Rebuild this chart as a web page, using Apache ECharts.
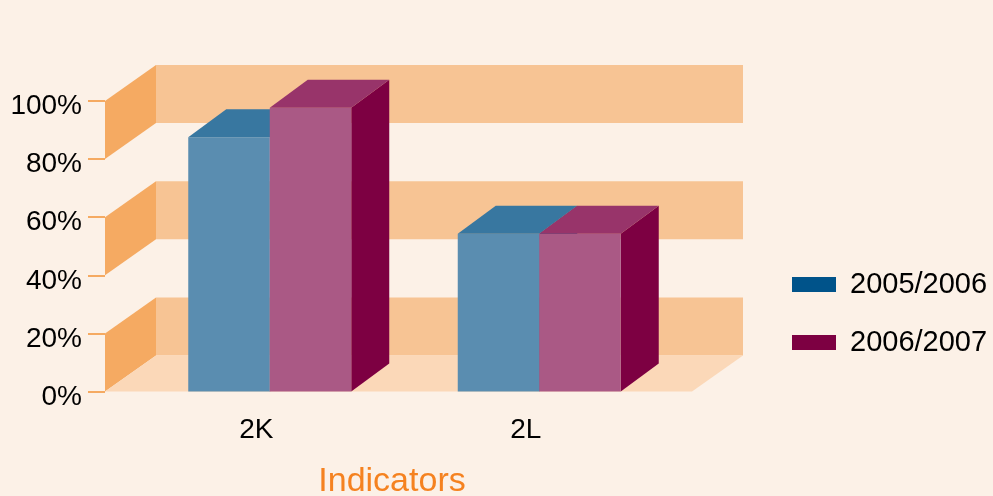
<!DOCTYPE html>
<html>
<head>
<meta charset="utf-8">
<script src="https://cdn.jsdelivr.net/npm/echarts@6/dist/echarts.min.js"></script>
<style>
  html, body { margin: 0; padding: 0; background: #FCF1E7; }
  #chart { width: 993px; height: 496px; }
</style>
</head>
<body>
<div id="chart"></div>
<script>
// Data
const categories = ['2K', '2L'];
const seriesNames = ['2005/2006', '2006/2007'];
const values2005 = [87.5, 54.3];
const values2006 = [97.7, 54.3];
const yTicks = [0, 20, 40, 60, 80, 100];
const wallBands = [[0, 20], [40, 60], [80, 100]];

// Drawing constants for the pseudo-3D look
const FONT = '"Liberation Sans", Arial, sans-serif';
const WALL_DEPTH = { dx: 51, dy: -36 };
const BAR_DEPTH = { dx: 38, dy: -28 };
const PLANE_EXTEND = { left: 30, right: 18 };
const BAR_FRACTION = 0.3024;

const palette = [
  { legend: '#00538A', front: '#5A8DB0', top: '#3877A0', side: '#1F5F8C' },
  { legend: '#7D0042', front: '#AA5985', top: '#98346A', side: '#7D0042' }
];

// Back wall, side wall and floor, placed from the value axis scale
function renderWalls(params, api) {
  const cs = params.coordSys;
  const xl = cs.x - PLANE_EXTEND.left;
  const xr = cs.x + cs.width + PLANE_EXTEND.right;
  const y = v => api.coord([0, v])[1];
  const { dx, dy } = WALL_DEPTH;
  const children = [];
  wallBands.forEach(([a, b]) => {
    children.push({
      type: 'rect',
      shape: { x: xl + dx, y: y(b) + dy, width: xr - xl, height: y(a) - y(b) },
      style: { fill: '#F7C494' }
    });
  });
  wallBands.forEach(([a, b]) => {
    children.push({
      type: 'polygon',
      shape: { points: [[xl, y(a)], [xl + dx, y(a) + dy], [xl + dx, y(b) + dy], [xl, y(b)]] },
      style: { fill: '#F5AA62' }
    });
  });
  const y0 = y(0);
  children.push({
    type: 'polygon',
    shape: { points: [[xl, y0], [xr, y0], [xr + dx, y0 + dy], [xl + dx, y0 + dy]] },
    style: { fill: '#FBD8B8' }
  });
  return { type: 'group', children: children };
}

// A box-shaped bar: front face, top face and right side face
function makeBarRenderer(k) {
  return function (params, api) {
    const idx = api.value(0);
    const val = api.value(1);
    const base = api.coord([idx, 0]);
    const top = api.coord([idx, val]);
    const bw = api.size([1, 0])[0];
    const w = bw * BAR_FRACTION;
    const x0 = base[0] - w + k * w;
    const x1 = x0 + w;
    const yt = top[1];
    const yb = base[1];
    const { dx, dy } = BAR_DEPTH;
    const c = palette[k];
    return {
      type: 'group',
      children: [
        { type: 'polygon', shape: { points: [[x1, yt], [x1 + dx, yt + dy], [x1 + dx, yb + dy], [x1, yb]] }, style: { fill: c.side } },
        { type: 'rect', shape: { x: x0, y: yt, width: w, height: yb - yt }, style: { fill: c.front } },
        { type: 'polygon', shape: { points: [[x0, yt], [x1, yt], [x1 + dx, yt + dy], [x0 + dx, yt + dy]] }, style: { fill: c.top } }
      ]
    };
  };
}

const chart = echarts.init(document.getElementById('chart'), null, { renderer: 'canvas' });

const option = {
  backgroundColor: '#FCF1E7',
  animation: false,
  grid: { left: 135, right: 319, top: 101, bottom: 104.5, outerBoundsMode: 'none', containLabel: false },
  legend: {
    orient: 'vertical',
    left: 787,
    top: 265,
    icon: 'rect',
    itemWidth: 44,
    itemHeight: 15,
    itemGap: 29,
    data: seriesNames,
    textStyle: { fontFamily: FONT, fontSize: 29, color: '#000', padding: [0, 0, 0, 9] }
  },
  xAxis: {
    type: 'category',
    data: categories,
    axisLine: { show: false },
    axisTick: { show: false },
    axisLabel: { fontFamily: FONT, fontSize: 28, color: '#000', margin: 25, padding: [0, 27, 0, 0] },
    name: 'Indicators',
    nameLocation: 'middle',
    nameGap: 73,
    nameTextStyle: { fontFamily: FONT, fontSize: 34, color: '#F58220', padding: [0, 25, 0, 0] }
  },
  yAxis: {
    type: 'value',
    min: yTicks[0],
    max: yTicks[yTicks.length - 1],
    interval: yTicks[1] - yTicks[0],
    offset: 30,
    axisLine: { show: false },
    axisTick: { show: true, length: 17, lineStyle: { color: '#F5AA62', width: 2 } },
    splitLine: { show: false },
    axisLabel: {
      formatter: '{value}%', fontFamily: FONT, fontSize: 28, color: '#000', margin: 23,
      verticalAlign: 'top', lineHeight: 11
    }
  },
  series: [
    {
      type: 'custom',
      name: 'walls',
      silent: true,
      clip: false,
      z: 1,
      renderItem: renderWalls,
      data: [[0, 0]]
    },
    {
      type: 'custom',
      name: seriesNames[0],
      z: 2,
      clip: false,
      itemStyle: { color: palette[0].legend },
      renderItem: makeBarRenderer(0),
      encode: { x: 0, y: 1 },
      data: categories.map((c, i) => [i, values2005[i]])
    },
    {
      type: 'custom',
      name: seriesNames[1],
      z: 3,
      clip: false,
      itemStyle: { color: palette[1].legend },
      renderItem: makeBarRenderer(1),
      encode: { x: 0, y: 1 },
      data: categories.map((c, i) => [i, values2006[i]])
    }
  ]
};

chart.setOption(option);
</script>
</body>
</html>
